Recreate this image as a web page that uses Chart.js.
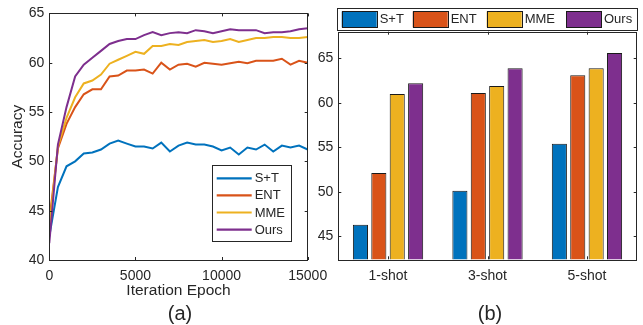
<!DOCTYPE html>
<html>
<head>
<meta charset="utf-8">
<script src="https://cdn.jsdelivr.net/npm/chart.js@4.4.1/dist/chart.umd.min.js"></script>
<style>
body{margin:0;background:#fff;width:643px;height:325px;overflow:hidden;position:relative;font-family:"Liberation Sans",Arial,sans-serif;}
#wa{position:absolute;left:0;top:0;width:340px;height:325px;}
#wb{position:absolute;left:300px;top:0;width:343px;height:325px;}
.cap{position:absolute;top:301px;width:60px;text-align:center;font-size:20px;line-height:24px;color:#262626;}
</style>
</head>
<body>
<div id="wa"><canvas id="ca"></canvas></div>
<div id="wb"><canvas id="cb"></canvas></div>
<div class="cap" style="left:150px">(a)</div>
<div class="cap" style="left:460px">(b)</div>
<script>
// (a) accuracy vs iteration
var iterations = [0,500,1000,1500,2000,2500,3000,3500,4000,4500,5000,5500,6000,6500,7000,7500,
                  8000,8500,9000,9500,10000,10500,11000,11500,12000,12500,13000,13500,14000,14500,15000];
var accST   = [42.4,47.4,49.5,50.0,50.8,50.9,51.2,51.8,52.1,51.8,51.5,51.5,51.3,51.9,51.0,51.6,
               51.9,51.7,51.7,51.5,51.1,51.4,50.7,51.4,51.2,51.7,51.0,51.6,51.4,51.6,51.2];
var accENT  = [44.0,51.3,53.8,55.5,56.8,57.3,57.3,58.6,58.7,59.2,59.2,59.3,58.9,60.0,59.3,59.8,
               59.9,59.6,60.0,59.9,59.8,59.95,60.1,59.95,60.2,60.2,60.2,60.4,59.8,60.2,60.0];
var accMME  = [43.3,51.5,54.4,56.5,57.9,58.2,58.8,59.9,60.3,60.7,61.1,60.9,61.7,61.7,61.9,61.8,
               62.1,62.2,62.3,62.1,62.2,62.4,62.1,62.3,62.5,62.5,62.6,62.6,62.5,62.5,62.6];
var accOurs = [41.7,51.7,55.5,58.6,59.8,60.5,61.2,61.9,62.2,62.4,62.4,62.8,63.1,62.8,63.0,63.1,
               63.0,63.3,63.2,63.0,63.2,63.4,63.3,63.3,63.3,63.0,63.1,63.1,63.2,63.4,63.5];
var xTicksA = [0,5000,10000,15000];
var yTicksA = [40,45,50,55,60,65];

// (b) few-shot bars
var shots    = ['1-shot','3-shot','5-shot'];
var shotST   = [46.3,50.1,55.4];
var shotENT  = [52.1,61.1,63.1];
var shotMME  = [61.0,61.9,63.9];
var shotOurs = [62.2,63.9,65.6];
var yTicksB  = [45,50,55,60,65];

var methods = ['S+T','ENT','MME','Ours'];
var colors = ['#0072BD','#D95319','#EDB120','#7E2F8E'];
var ink = '#262626';
var fam = '"Liberation Sans", Arial, sans-serif';

Chart.defaults.font.family = fam;
Chart.defaults.color = ink;

function pts(ys){
    return iterations.map(function(x,i){ return {x:x, y:ys[i]}; });
}
function setTicks(list){
    return function(s){ s.ticks = list.map(function(v){ return {value:v}; }); };
}

// matlab style box with inward ticks
var boxTicks = {
    id:'boxTicks',
    afterDraw:function(chart,args,o){
        var ctx = chart.ctx, a = chart.chartArea, xs = chart.scales.x, ys = chart.scales.y, L = 3;
        ctx.save();
        ctx.strokeStyle = ink; ctx.lineWidth = 1;
        ctx.beginPath();
        xs.ticks.forEach(function(t,i){
            var p = Math.round(xs.getPixelForTick(i))+0.5;
            ctx.moveTo(p,a.bottom); ctx.lineTo(p,a.bottom-L);
            ctx.moveTo(p,a.top); ctx.lineTo(p,a.top+L);
        });
        ys.ticks.forEach(function(t,i){
            var p = Math.round(ys.getPixelForTick(i))+0.5;
            ctx.moveTo(a.left,p); ctx.lineTo(a.left+L,p);
            ctx.moveTo(a.right,p); ctx.lineTo(a.right-L,p);
        });
        ctx.stroke();
        ctx.strokeRect(Math.round(a.left)+0.5,Math.round(a.top)+0.5,Math.round(a.width),Math.round(a.height));
        ctx.restore();
    }
};

// legend drawn inside the plot (a) / above the plot (b)
var boxLegend = {
    id:'boxLegend',
    afterDraw:function(chart,args,o){
        var ctx = chart.ctx;
        ctx.save();
        ctx.fillStyle = '#fff';
        ctx.fillRect(o.x,o.y,o.w,o.h);
        ctx.strokeStyle = ink; ctx.lineWidth = 1;
        ctx.strokeRect(Math.round(o.x)+0.5,Math.round(o.y)+0.5,Math.round(o.w),Math.round(o.h));
        ctx.font = '13px ' + fam;
        ctx.textBaseline = 'middle';
        ctx.fillStyle = ink;
        chart.data.datasets.forEach(function(d,i){
            var sx = o.horizontal ? o.xs[i] : o.x+5;
            var sy = o.horizontal ? o.y+o.h/2 : o.y+13.3+i*17.1;
            if(o.horizontal){
                ctx.fillStyle = d.backgroundColor;
                ctx.fillRect(sx,sy-8,35,16);
                ctx.strokeStyle = '#1a1a1a';
                ctx.strokeRect(Math.round(sx)+0.5,Math.round(sy-8)+0.5,35,16);
            } else {
                ctx.strokeStyle = d.borderColor; ctx.lineWidth = 2.2;
                ctx.beginPath(); ctx.moveTo(sx,sy); ctx.lineTo(sx+35,sy); ctx.stroke();
            }
            ctx.fillStyle = ink;
            ctx.fillText(d.label, sx+38, sy+0.5);
        });
        ctx.restore();
    }
};

var lineSets = [accST,accENT,accMME,accOurs].map(function(ys,i){
    return {label:methods[i], data:pts(ys), borderColor:colors[i], backgroundColor:colors[i],
            borderWidth:2, pointRadius:0, tension:0, order:4-i};
});

new Chart(document.getElementById('ca'),{
    type:'line',
    data:{datasets:lineSets},
    options:{
        responsive:true, maintainAspectRatio:false, animation:false,
        layout:{padding:{top:10,right:32.3,left:0,bottom:0}},
        plugins:{legend:{display:false}, tooltip:{enabled:false},
                 boxLegend:{x:211.7,y:165,w:79,h:75.7,horizontal:false}},
        scales:{
            x:{type:'linear', min:0, max:15000,
               afterBuildTicks:setTicks(xTicksA),
               afterFit:function(s){ s.height = 65; },
               grid:{display:false, drawTicks:false}, border:{display:false},
               ticks:{font:{size:14}, color:ink, padding:8, maxRotation:0,
                      callback:function(v){ return String(v); }},
               title:{display:true, text:'Iteration Epoch', font:{size:15.5}, color:ink, padding:{top:0,bottom:24.7}}},
            y:{min:40, max:65,
               afterBuildTicks:setTicks(yTicksA),
               afterFit:function(s){ s.width = 49.3; },
               grid:{display:false, drawTicks:false}, border:{display:false},
               ticks:{font:{size:14}, color:ink, padding:5},
               title:{display:true, text:'Accuracy', font:{size:15.5}, color:ink, padding:{top:8.1,bottom:0}}}
        }
    },
    plugins:[boxTicks,boxLegend]
});

var barSets = [shotST,shotENT,shotMME,shotOurs].map(function(v,i){
    return {label:methods[i], data:v, backgroundColor:colors[i], borderColor:'#1a1a1a',
            borderWidth:1, borderSkipped:false, categoryPercentage:0.74, barPercentage:0.82};
});

new Chart(document.getElementById('cb'),{
    type:'bar',
    data:{labels:shots, datasets:barSets},
    options:{
        responsive:true, maintainAspectRatio:false, animation:false,
        layout:{padding:{top:31.7,right:6.3,left:0,bottom:0}},
        plugins:{legend:{display:false}, tooltip:{enabled:false},
                 boxLegend:{x:36.7,y:8.3,w:300,h:22.2,horizontal:true,xs:[41.7,112.7,186.7,266]}},
        scales:{
            x:{afterFit:function(s){ s.height = 65.7; },
               grid:{display:false, drawTicks:false}, border:{display:false},
               ticks:{font:{size:14}, color:ink, padding:8}},
            y:{min:42.4, max:68,
               afterBuildTicks:setTicks(yTicksB),
               afterFit:function(s){ s.width = 38.3; },
               grid:{display:false, drawTicks:false}, border:{display:false},
               ticks:{font:{size:14}, color:ink, padding:5}}
        }
    },
    plugins:[boxTicks,boxLegend]
});
</script>
</body>
</html>
